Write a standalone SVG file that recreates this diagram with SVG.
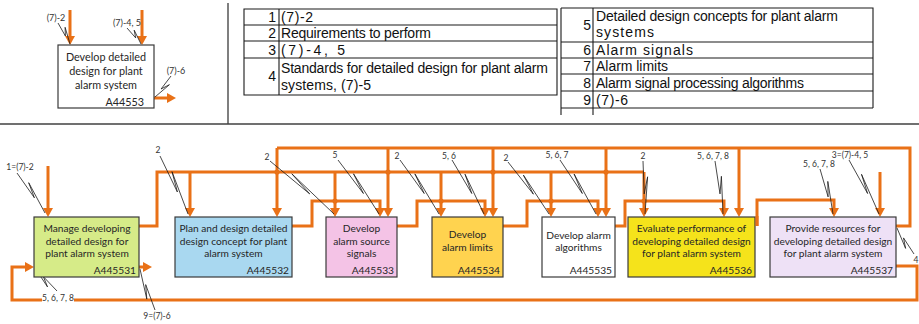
<svg xmlns="http://www.w3.org/2000/svg" width="919" height="324" viewBox="0 0 919 324">
<style>
.box{stroke:#3a3a3a;stroke-width:1.2}
.bt{font-family:Lato,"Liberation Sans",sans-serif;font-size:10.2px;fill:#262626;text-anchor:middle}
.id{font-family:Lato,"Liberation Sans",sans-serif;font-size:10.2px;fill:#262626;text-anchor:end}
.fl{fill:none;stroke:#E97117;stroke-width:3;stroke-linejoin:miter}
.ar{marker-end:url(#ah)}
.co{fill:none;stroke:#1a1a1a;stroke-width:0.8}
.lb{font-family:Lato,"Liberation Sans",sans-serif;font-size:8.5px;fill:#333;text-anchor:middle}
.tl{fill:none;stroke:#1a1a1a;stroke-width:1.1}
.tt{font-family:"Liberation Sans",sans-serif;font-size:14px;fill:#111}
.tn{font-family:"Liberation Sans",sans-serif;font-size:14px;fill:#111;text-anchor:end}
.hop{fill:#E97117}
</style>
<defs>
<marker id="ah" viewBox="0 0 9 10" markerWidth="9" markerHeight="10" refX="0.5" refY="5" orient="auto" markerUnits="userSpaceOnUse">
<path d="M0,0 L9,5 L0,10 z" fill="#E97117"/>
</marker>
</defs>
<rect width="919" height="324" fill="#fff"/>

<!-- separators -->
<g id="separators">
<line x1="228" y1="3" x2="228" y2="124" stroke="#7f7f7f" stroke-width="2"/>
<line x1="0" y1="124" x2="919" y2="124" stroke="#404040" stroke-width="1.5"/>
</g>

<!-- top-left context diagram -->
<g id="ctx-connectors">
<path class="fl ar" d="M70,10 V36.5"/>
<path class="fl ar" d="M142,10 V36.5"/>
<path class="fl ar" d="M154,98 H167.5"/>
<path class="co" d="M58,23 L65.4,36 L65.1,27.3 L70,44"/>
<path class="co" d="M127,28 L135.7,37.9 L134.2,30.2 L141,44"/>
<path class="co" d="M171,76 L161.1,89 L169.4,84.7 L155,97"/>
<text class="lb" style="font-size:9px" x="56" y="21">(7)-2</text>
<text class="lb" style="font-size:9px" x="127" y="26">(7)-4, 5</text>
<text class="lb" style="font-size:9px" x="176" y="74">(7)-6</text>
</g>
<g id="A44553">
<rect class="box" x="58" y="45" width="96" height="63" fill="#fff"/>
<text class="bt" style="font-size:10.8px" x="106" y="61">Develop detailed</text>
<text class="bt" style="font-size:10.8px" x="106" y="75">design for plant</text>
<text class="bt" style="font-size:10.8px" x="106" y="89">alarm system</text>
<text class="id" style="font-size:10.8px" x="144" y="106">A44553</text>
</g>

<!-- legend table 1 -->
<g id="table1">
<path class="tl" d="M244,9 H557 V95 H244 Z M279,9 V95 M244,25 H557 M244,41 H557 M244,58 H557"/>
<text class="tn" x="276" y="22">1</text>
<text class="tt" x="281" y="22" textLength="32" lengthAdjust="spacing">(7)-2</text>
<text class="tn" x="276" y="38">2</text>
<text class="tt" x="281" y="38" textLength="150" lengthAdjust="spacing">Requirements to perform</text>
<text class="tn" x="276" y="55">3</text>
<text class="tt" x="281" y="55" textLength="64" lengthAdjust="spacing">(7)-4, 5</text>
<text class="tn" x="276" y="81">4</text>
<text class="tt" x="281" y="73" textLength="267" lengthAdjust="spacing">Standards for detailed design for plant alarm</text>
<text class="tt" x="281" y="90" textLength="90" lengthAdjust="spacing">systems, (7)-5</text>
</g>

<!-- legend table 2 -->
<g id="table2">
<path class="tl" d="M561,8 H873 V108 M561,8 V115 M593,8 V115 M561,42 H873 M561,58 H873 M561,74 H873 M561,91 H873 M561,108 H873"/>
<text class="tn" x="591" y="30">5</text>
<text class="tt" x="596" y="21" textLength="242" lengthAdjust="spacing">Detailed design concepts for plant alarm</text>
<text class="tt" x="596" y="37" textLength="58" lengthAdjust="spacing">systems</text>
<text class="tn" x="591" y="55">6</text>
<text class="tt" x="596" y="55" textLength="97" lengthAdjust="spacing">Alarm signals</text>
<text class="tn" x="591" y="71">7</text>
<text class="tt" x="596" y="71" textLength="72" lengthAdjust="spacing">Alarm limits</text>
<text class="tn" x="591" y="88">8</text>
<text class="tt" x="596" y="88" textLength="208" lengthAdjust="spacing">Alarm signal processing algorithms</text>
<text class="tn" x="591" y="105">9</text>
<text class="tt" x="596" y="105" textLength="32" lengthAdjust="spacing">(7)-6</text>
</g>

<!-- main diagram connectors -->
<g id="connectors">
<path class="fl ar" d="M48,166 V208.5"/>
<path class="fl ar" d="M880,172 V208.5"/>
<path class="fl ar" d="M139,267 H143.5"/>
<path class="fl ar" d="M896,266 H917 V300 H12 V267 H25.5"/>
<!-- 2: requirements -->
<path class="fl" d="M139,226 H157 V172 H644"/>
<path class="fl ar" d="M190,172 V208.5"/>
<path class="fl ar" d="M335,172 V208.5"/>
<path class="fl ar" d="M441,172 V208.5"/>
<path class="fl ar" d="M551,172 V208.5"/>
<path class="fl ar" d="M644,172 V208.5"/>
<!-- 4: standards -->
<path class="fl" d="M896,226 H910 V148 H277"/>
<path class="fl ar" d="M277,148 V208.5"/>
<path class="fl ar" d="M388,148 V208.5"/>
<path class="fl ar" d="M493,148 V208.5"/>
<path class="fl ar" d="M606,148 V208.5"/>
<path class="fl ar" d="M739,148 V208.5"/>
<!-- outputs -->
<path class="fl ar" d="M292,226 H312 V201 H380 V208.5"/>
<path class="fl ar" d="M397,226 H417 V201 H485 V208.5"/>
<path class="fl ar" d="M503,226 H527 V201 H598 V208.5"/>
<path class="fl ar" d="M615,226 H625 V201 H724 V208.5"/>
<path class="fl ar" d="M757,226 V200 H834 V208.5"/>
<!-- hops -->
<circle class="hop" cx="277" cy="172" r="2.6"/>
<circle class="hop" cx="388" cy="172" r="2.6"/>
<circle class="hop" cx="493" cy="172" r="2.6"/>
<circle class="hop" cx="606" cy="172" r="2.6"/>
<circle class="hop" cx="335" cy="201" r="2.6"/>
<circle class="hop" cx="441" cy="201" r="2.6"/>
<circle class="hop" cx="551" cy="201" r="2.6"/>
<circle class="hop" cx="644" cy="201" r="2.6"/>
<!-- callouts -->
<path class="co" d="M17,173 L34.4,197.8 L28.7,182.7 L45,213"/>
<path class="co" d="M57,291 L43.4,276.7 L47.5,286.9 L35,268"/>
<path class="co" d="M155,310 L145.7,284.6 L146.8,299.1 L140,269"/>
<path class="co" d="M160,156 L177.4,192 L172,171.7 L188,214"/>
<path class="co" d="M270,161 L309.7,193.9 L291.8,173.8 L334,214"/>
<path class="co" d="M338,160 L363.4,193.5 L353.5,173.8 L379,214"/>
<path class="co" d="M400,160 L424.2,193.5 L414.9,173.9 L439,214"/>
<path class="co" d="M452,160 L471.8,193.5 L465,174.2 L484,214"/>
<path class="co" d="M508,162 L533.4,194.2 L523.4,175.1 L549,214"/>
<path class="co" d="M560,160 L582.3,193.5 L574.1,174 L596,214"/>
<path class="co" d="M643,161 L644.2,193.9 L647.6,176.8 L645,214"/>
<path class="co" d="M715,161 L720,193.9 L721.4,176.3 L723,214"/>
<path class="co" d="M820,169 L828.1,196.9 L827.8,181.4 L833,214"/>
<path class="co" d="M849,160 L867.6,193.5 L861.5,174.3 L879,214"/>
<path class="co" d="M914,254 L903.5,237.9 L905.6,248.4 L897,228"/>
<!-- labels -->
<text class="lb" x="20" y="170">1=(7)-2</text>
<rect x="42" y="293" width="32" height="10" fill="#fff"/>
<text class="lb" x="58" y="301">5, 6, 7, 8</text>
<text class="lb" x="157" y="319">9=(7)-6</text>
<text class="lb" x="158" y="153">2</text>
<text class="lb" x="267" y="160">2</text>
<text class="lb" x="335" y="158">5</text>
<text class="lb" x="397" y="159">2</text>
<text class="lb" x="449" y="159">5, 6</text>
<text class="lb" x="506" y="161">2</text>
<text class="lb" x="557" y="158">5, 6, 7</text>
<text class="lb" x="643" y="159">2</text>
<text class="lb" x="713" y="159">5, 6, 7, 8</text>
<text class="lb" x="819" y="167">5, 6, 7, 8</text>
<text class="lb" x="850" y="158">3=(7)-4, 5</text>
<text class="lb" x="916" y="263">4</text>
</g>

<!-- nodes -->
<g id="A445531">
<rect class="box" x="34" y="217" width="105" height="60" fill="#D6EB88"/>
<text class="bt" x="87" y="232">Manage developing</text>
<text class="bt" x="87" y="245">detailed design for</text>
<text class="bt" x="87" y="257">plant alarm system</text>
<text class="id" x="136" y="274">A445531</text>
</g>
<g id="A445532">
<rect class="box" x="175" y="217" width="117" height="60" fill="#A9D8F0"/>
<text class="bt" x="233.5" y="232">Plan and design detailed</text>
<text class="bt" x="233.5" y="245">design concept for plant</text>
<text class="bt" x="233.5" y="257">alarm system</text>
<text class="id" x="289" y="274">A445532</text>
</g>
<g id="A445533">
<rect class="box" x="326" y="217" width="71" height="60" fill="#F4C3E6"/>
<text class="bt" x="361.5" y="232">Develop</text>
<text class="bt" x="361.5" y="245">alarm source</text>
<text class="bt" x="361.5" y="257">signals</text>
<text class="id" x="394" y="274">A445533</text>
</g>
<g id="A445534">
<rect class="box" x="432" y="217" width="71" height="60" fill="#FFD34F"/>
<text class="bt" x="467.5" y="238">Develop</text>
<text class="bt" x="467.5" y="251">alarm limits</text>
<text class="id" x="500" y="274">A445534</text>
</g>
<g id="A445535">
<rect class="box" x="542" y="217" width="73" height="60" fill="#FFFFFF"/>
<text class="bt" x="578.5" y="239">Develop alarm</text>
<text class="bt" x="578.5" y="251">algorithms</text>
<text class="id" x="612" y="274">A445535</text>
</g>
<g id="A445536">
<rect class="box" x="628" y="217" width="127" height="60" fill="#F5E31B"/>
<text class="bt" x="691.5" y="232">Evaluate performance of</text>
<text class="bt" x="691.5" y="245">developing detailed design</text>
<text class="bt" x="691.5" y="257">for plant alarm system</text>
<text class="id" x="752" y="274">A445536</text>
</g>
<g id="A445537">
<rect class="box" x="770" y="217" width="126" height="60" fill="#EEE1F6"/>
<text class="bt" x="833" y="232">Provide resources for</text>
<text class="bt" x="833" y="245">developing detailed design</text>
<text class="bt" x="833" y="257">for plant alarm system</text>
<text class="id" x="893" y="274">A445537</text>
</g>
<path class="fl" d="M757,226 V216"/>
</svg>
